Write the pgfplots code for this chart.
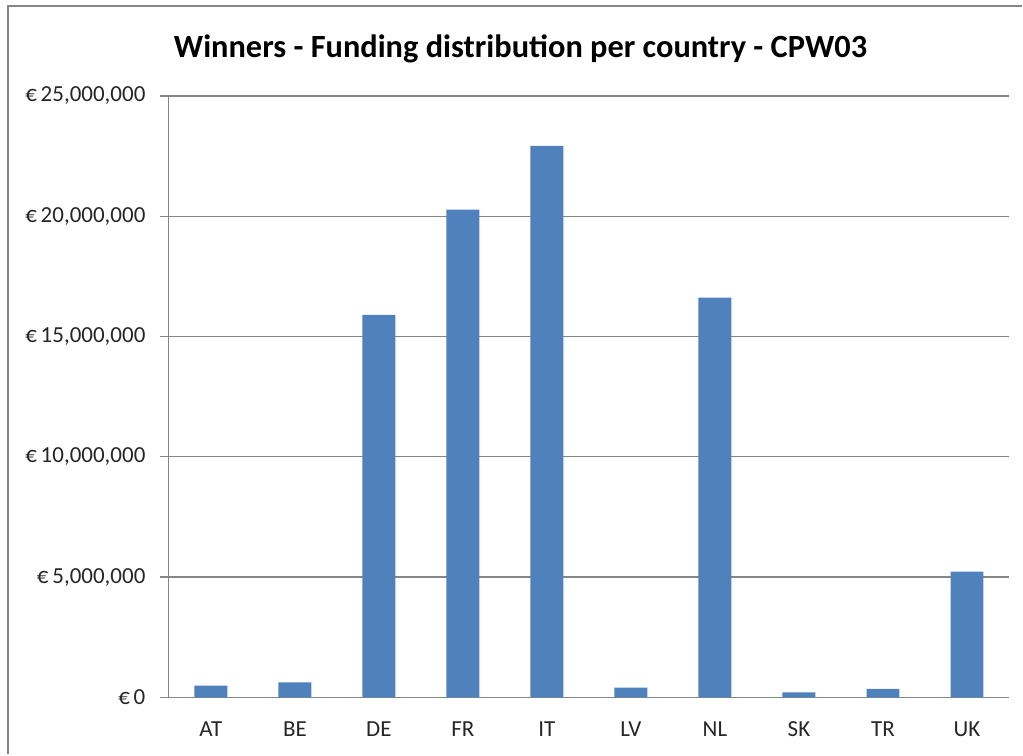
\documentclass[border=0pt]{standalone}
\usepackage{fontspec}
\setmainfont{Carlito}
\usepackage{pgfplots}
\pgfplotsset{compat=1.18}
\definecolor{barblue}{HTML}{4F81BD}
\definecolor{framegray}{HTML}{868686}
\begin{document}
\begin{tikzpicture}
\path (0,0) rectangle (511.5pt,377.5pt);
\draw[framegray,line width=1pt] (4pt,0) -- (4pt,374.5pt) -- (511.5pt,374.5pt);
\node[font=\bfseries\fontsize{16.2}{20}\selectfont] at (260.5pt,353pt) {Winners - Funding distribution per country - CPW03};
\begin{axis}[at={(84.5pt,28.5pt)},anchor=south west,
    scale only axis,width=420.5pt,height=301pt,
    ybar,bar width=16.5pt,
    xmin=-0.5,xmax=9.5,ymin=0,ymax=25000000,
    xtick={0,...,9},
    xticklabels={AT,BE,DE,FR,IT,LV,NL,SK,TR,UK},
    major x tick style={draw=none},
    extra x ticks={-0.5,0.5,...,9.5},
    extra x tick labels={},
    extra x tick style={tick style={draw=framegray,line width=0.6pt},major tick length=4.5pt,tick align=outside,grid=none},
    ytick={0,5000000,10000000,15000000,20000000,25000000},
    scaled y ticks=false,
    yticklabel={€\,\pgfmathprintnumber[fixed,1000 sep={,}]{\tick}},
    /pgf/number format/assume math mode=true,
    ymajorgrids,
    grid style={framegray,line width=0.6pt},
    axis x line*=bottom,axis y line*=left,
    axis line style={framegray,line width=0.6pt},
    y tick style={draw=framegray,line width=0.6pt},
    major tick length=4.5pt,tick align=outside,
    tick label style={font=\fontsize{11.5}{13}\selectfont,text=black!85},
    xticklabel style={yshift=-4pt},
    yticklabel style={xshift=-3.7pt},
    ]
\addplot[fill=barblue,draw=none] coordinates
  {(0,490000)(1,620000)(2,15900000)(3,20270000)(4,22920000)(5,400000)(6,16610000)(7,210000)(8,350000)(9,5230000)};
\end{axis}
\end{tikzpicture}
\end{document}
